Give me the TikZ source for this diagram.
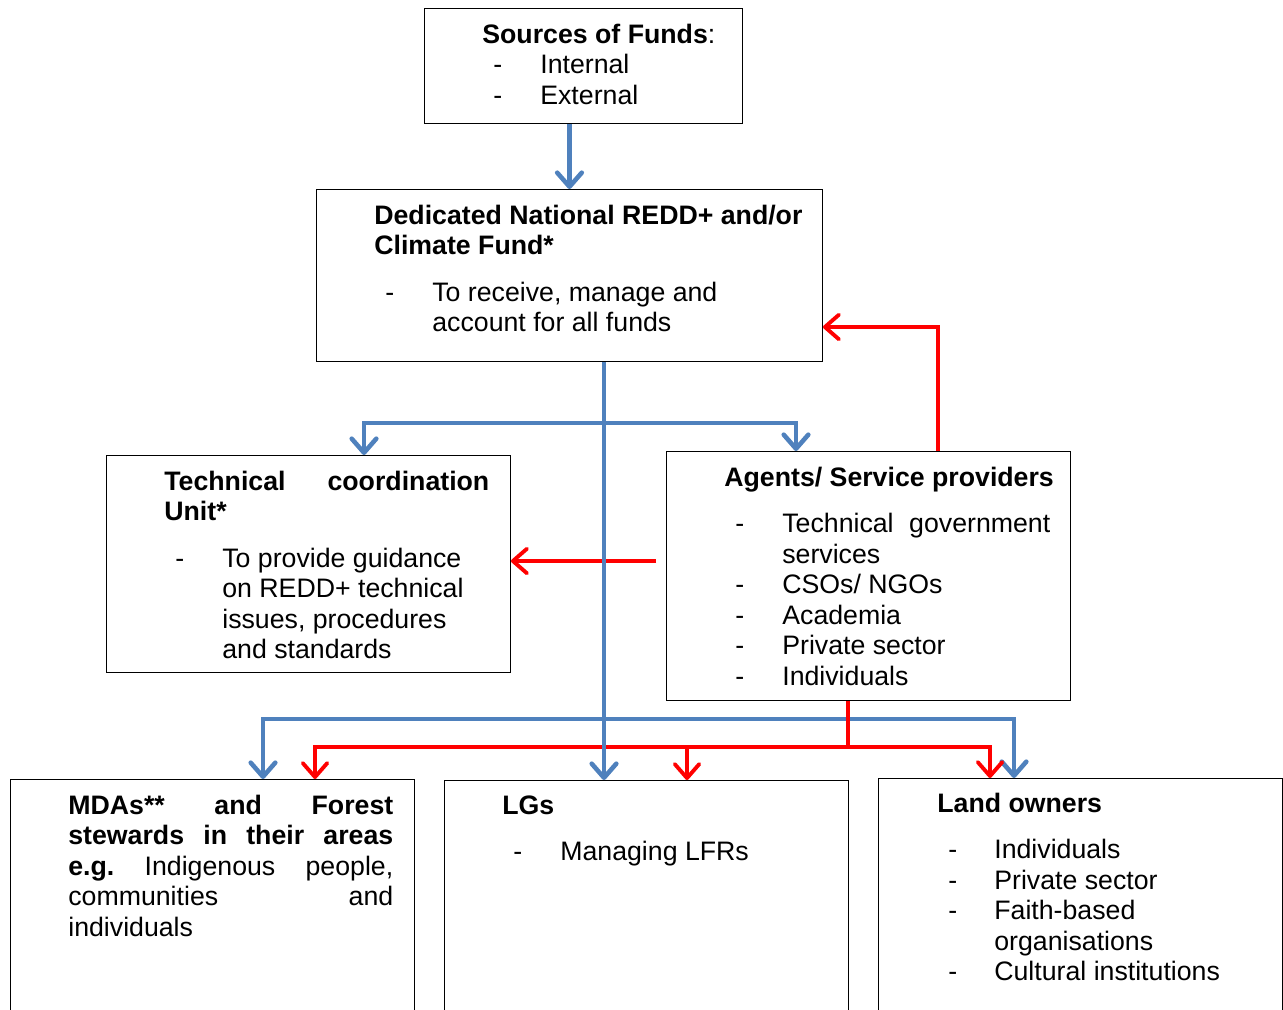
\documentclass[tikz,border=0pt]{standalone}
\usepackage{fontspec}
\setmainfont{Liberation Sans}
\usetikzlibrary{positioning,arrows.meta}
\definecolor{fundblue}{RGB}{79,129,189}
\newcommand{\dashitem}{\hspace*{0.22cm}-}
\newcommand{\boxfont}{\fontsize{15.2pt}{17.4pt}\selectfont}

\begin{document}
\begin{tikzpicture}[x=0.02cm,y=-0.02cm,
    box/.style={draw,line width=0.6pt,inner sep=0pt,anchor=north west},
    txt/.style={inner sep=0pt,anchor=base west,font=\boxfont},
    flow/.style={draw=fundblue,line width=2.6pt,-{Straight Barb[length=8pt,width=14pt,round]}},
    back/.style={draw=red,line width=2.2pt,-{Straight Barb[length=8pt,width=14pt,round]}}]
  \useasboundingbox (0,0) rectangle (1283,1009);
  \clip (0,0) rectangle (1283,1009);

  % boxes
  \node[box,minimum width=6.36cm,minimum height=2.30cm] (src) at (424,8) {};
  \node[box,minimum width=10.12cm,minimum height=3.44cm] (fund) at (316,189) {};
  \node[box,minimum width=8.08cm,minimum height=4.34cm] (tcu) at (106,455) {};
  \node[box,minimum width=8.08cm,minimum height=4.98cm] (agents) at (666,451) {};
  \node[box,minimum width=8.08cm,minimum height=4.80cm] (mdas) at (10,779) {};
  \node[box,minimum width=8.08cm,minimum height=4.80cm] (lgs) at (444,780) {};
  \node[box,minimum width=8.08cm,minimum height=4.80cm] (land) at (878,778) {};

  % texts
  \node[txt] (srct) at (482,43) {\begin{tabular}[t]{@{}p{1.16cm}@{}l@{}}
      \multicolumn{2}{@{}l@{}}{\textbf{Sources of Funds}:}\\
      \dashitem & Internal\\
      \dashitem & External
    \end{tabular}};
  \node[txt] (fundt) at (374,224) {\begin{tabular}[t]{@{}p{1.16cm}@{}l@{}}
      \multicolumn{2}{@{}l@{}}{\textbf{Dedicated National REDD+ and/or}}\\
      \multicolumn{2}{@{}l@{}}{\textbf{Climate Fund*}}\\[0.32cm]
      \dashitem & To receive, manage and\\
      & account for all funds
    \end{tabular}};
  \node[txt] (tcut) at (164,490) {\begin{tabular}[t]{@{}p{1.16cm}@{}l@{}}
      \multicolumn{2}{@{}l@{}}{\makebox[6.5cm]{\textbf{Technical}\hfill\textbf{coordination}}}\\
      \multicolumn{2}{@{}l@{}}{\textbf{Unit*}}\\[0.32cm]
      \dashitem & To provide guidance\\
      & on REDD+ technical\\
      & issues, procedures\\
      & and standards
    \end{tabular}};
  \node[txt] (agentst) at (724,486) {\begin{tabular}[t]{@{}p{1.16cm}@{}l@{}}
      \multicolumn{2}{@{}l@{}}{\textbf{Agents/ Service providers}}\\[0.32cm]
      \dashitem & \makebox[5.36cm]{Technical\hfill government}\\
      & services\\
      \dashitem & CSOs/ NGOs\\
      \dashitem & Academia\\
      \dashitem & Private sector\\
      \dashitem & Individuals
    \end{tabular}};
  \node[txt] (mdast) at (68,814) {\begin{tabular}[t]{@{}l@{}}
      \makebox[6.5cm]{\textbf{MDAs**}\hfill\textbf{and}\hfill\textbf{Forest}}\\
      \makebox[6.5cm]{\textbf{stewards}\hfill\textbf{in}\hfill\textbf{their}\hfill\textbf{areas}}\\
      \makebox[6.5cm]{\textbf{e.g.}\hfill Indigenous\hfill people,}\\
      \makebox[6.5cm]{communities\hfill and}\\
      individuals
    \end{tabular}};
  \node[txt] (lgst) at (502,814) {\begin{tabular}[t]{@{}p{1.16cm}@{}l@{}}
      \multicolumn{2}{@{}l@{}}{\textbf{LGs}}\\[0.32cm]
      \dashitem & Managing LFRs
    \end{tabular}};
  \node[txt] (landt) at (937,812) {\begin{tabular}[t]{@{}p{1.14cm}@{}l@{}}
      \multicolumn{2}{@{}l@{}}{\textbf{Land owners}}\\[0.32cm]
      \dashitem & Individuals\\
      \dashitem & Private sector\\
      \dashitem & Faith-based\\
      & organisations\\
      \dashitem & Cultural institutions
    \end{tabular}};

  % connector points
  \coordinate (trunk) at (604,0);
  \coordinate (splitA) at (604,423);
  \coordinate (splitB) at (604,719);
  \coordinate (tcuIn) at (364,0);
  \coordinate (agIn) at (796,0);
  \coordinate (mdIn) at (263,0);
  \coordinate (laIn) at (1014,0);
  \coordinate (fbTurn) at (938,327);
  \coordinate (tcuBack) at (656,561);
  \coordinate (redBus) at (848,747);
  \coordinate (mdRed) at (315,0);
  \coordinate (lgRed) at (687,0);
  \coordinate (laRed) at (990,0);

  % blue flows
  \draw[flow] (src.south -| fund.north) -- (fund.north);
  \draw[flow] (splitA) -| (tcuIn |- tcu.north);
  \draw[flow] (splitA) -| (agIn |- agents.north);
  \draw[flow] (splitB) -| (mdIn |- mdas.north);
  \draw[flow] (splitB) -| (laIn |- land.north);

  % red flows
  \draw[back] (agents.north -| fbTurn) -- (fbTurn) -- (fbTurn -| fund.east);
  \draw[back] (tcuBack) -- (tcuBack -| tcu.east);
  \draw[draw=red,line width=2.2pt] (agents.south -| redBus) -- (redBus);
  \draw[back] (redBus) -| (mdRed |- mdas.north);
  \draw[back] (redBus) -| (lgRed |- lgs.north);
  \draw[back] (redBus) -| (laRed |- land.north);

  \draw[flow] (trunk |- fund.south) -- (trunk |- lgs.north);
\end{tikzpicture}
\end{document}
